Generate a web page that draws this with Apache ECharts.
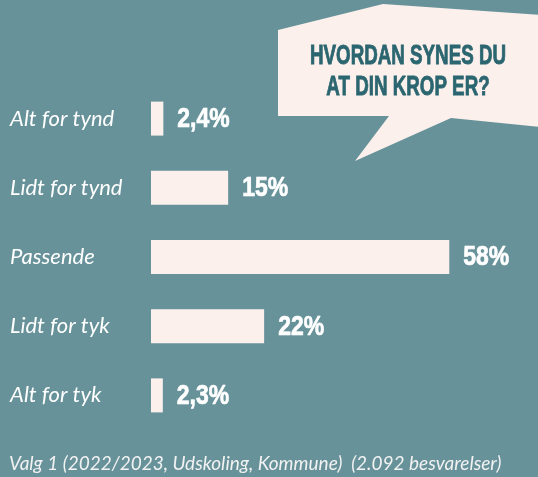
<!DOCTYPE html>
<html>
<head>
<meta charset="utf-8">
<script src="https://cdn.jsdelivr.net/npm/echarts@6/dist/echarts.min.js"></script>
<style>
html,body{margin:0;padding:0;background:#67929a;}
#chart{width:538px;height:477px;}
</style>
</head>
<body>
<div id="chart"></div>
<script>
var categories = ['Alt for tynd', 'Lidt for tynd', 'Passende', 'Lidt for tyk', 'Alt for tyk'];
var values = [2.4, 15, 58, 22, 2.3];
var titleLines = ['HVORDAN SYNES DU', 'AT DIN KROP ER?'];
var footer = 'Valg 1 (2022/2023, Udskoling, Kommune)  (2.092 besvarelser)';

var chart = echarts.init(document.getElementById('chart'));
var bg = '#67929a';
var barColor = '#fbf0ec';
var boldFont = '"Liberation Sans", Arial, sans-serif';

function fmt(v) { return String(v).replace('.', ',') + '%'; }

chart.setOption({
  backgroundColor: bg,
  animation: false,
  grid: { left: 151, right: 27, top: 84, bottom: 47, containLabel: false },
  xAxis: {
    type: 'value', min: 0, max: 70,
    show: false
  },
  yAxis: {
    type: 'category', data: categories, inverse: true,
    axisLine: { show: false }, axisTick: { show: false },
    axisLabel: {
      align: 'left', margin: 141,
      color: '#ffffff', fontStyle: 'italic', fontFamily: 'Lato, "Open Sans", sans-serif',
      fontSize: 22
    }
  },
  series: [{
    type: 'bar', data: values, barWidth: 34,
    itemStyle: { color: barColor }
  }, {
    type: 'custom',
    data: values.map(function (v, i) { return [v, i]; }),
    renderItem: function (params, api) {
      var p = api.coord([api.value(0), api.value(1)]);
      return {
        type: 'text',
        x: p[0] + 14, y: p[1] + 1, scaleX: 0.85,
        style: {
          text: fmt(api.value(0)), fill: '#ffffff',
          stroke: '#ffffff', lineWidth: 0.7,
          font: 'bold 27px ' + boldFont,
          textAlign: 'left', textVerticalAlign: 'middle'
        }
      };
    },
    z: 5
  }],
  graphic: [
    {
      type: 'polygon', z: 10,
      shape: { points: [[278, 30], [383, 4], [540, 15], [540, 127], [451, 118], [355, 161], [389, 116], [278, 116]] },
      style: { fill: barColor }
    },
    {
      type: 'text', z: 11, x: 408, y: 56, scaleX: 0.67,
      style: { text: titleLines[0], fill: '#2b6670', stroke: '#2b6670', lineWidth: 0.9, font: 'bold 28px ' + boldFont, textAlign: 'center', textVerticalAlign: 'middle' }
    },
    {
      type: 'text', z: 11, x: 408, y: 87, scaleX: 0.67,
      style: { text: titleLines[1], fill: '#2b6670', stroke: '#2b6670', lineWidth: 0.9, font: 'bold 28px ' + boldFont, textAlign: 'center', textVerticalAlign: 'middle' }
    },
    {
      type: 'text', z: 11, x: 9, y: 464,
      style: { text: footer, fill: '#f2f2f2', font: 'italic 19px Lato, "Open Sans", sans-serif', textAlign: 'left', textVerticalAlign: 'middle' }
    }
  ]
});
</script>
</body>
</html>
